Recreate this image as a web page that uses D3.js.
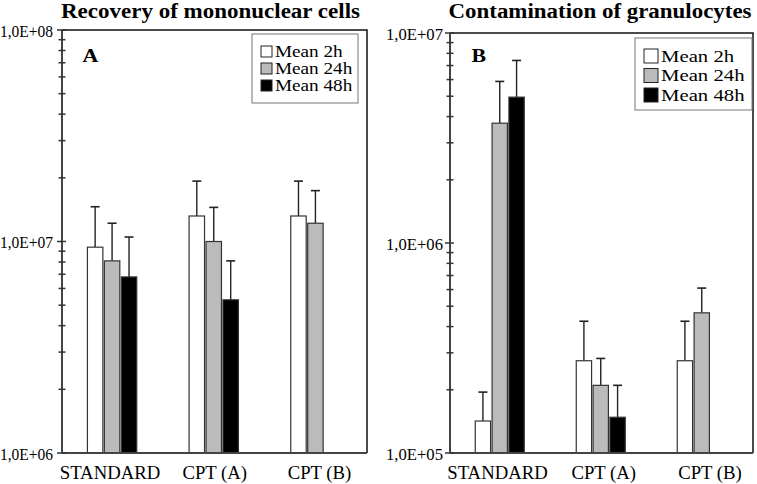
<!DOCTYPE html>
<html>
<head>
<meta charset="utf-8">
<script src="https://cdn.jsdelivr.net/npm/d3@7/dist/d3.min.js"></script>
<style>
  html, body { margin: 0; padding: 0; background: #fff; }
  svg { display: block; }
  text { font-family: "Liberation Serif", "Times New Roman", serif; fill: #000; }
</style>
</head>
<body>
<svg id="chart" width="757" height="484"></svg>
<script>
// ---------- data ----------
const categories = ["STANDARD", "CPT (A)", "CPT (B)"];
const seriesNames = ["Mean 2h", "Mean 24h", "Mean 48h"];
const seriesColors = ["#ffffff", "#bbbbbb", "#000000"];

// Panel A: Recovery of mononuclear cells
const monoMean2h  = [9.4e6, 1.32e7, 1.32e7];
const monoMean24h = [8.1e6, 1.0e7, 1.22e7];
const monoMean48h = [6.8e6, 5.3e6, null];
const monoSd2h    = [5.2e6, 6.1e6, 6.1e6];
const monoSd24h   = [4.1e6, 4.5e6, 5.2e6];
const monoSd48h   = [3.7e6, 2.8e6, null];
const monoTicks   = ["1,0E+06", "1,0E+07", "1,0E+08"];

// Panel B: Contamination of granulocytes
const granMean2h  = [1.42e5, 2.75e5, 2.75e5];
const granMean24h = [3.72e6, 2.1e5, 4.65e5];
const granMean48h = [4.95e6, 1.48e5, null];
const granSd2h    = [5.3e4, 1.49e5, 1.49e5];
const granSd24h   = [2.16e6, 7.2e4, 1.45e5];
const granSd48h   = [2.45e6, 6.2e4, null];
const granTicks   = ["1,0E+05", "1,0E+06", "1,0E+07"];

const panels = [
  {
    title: "Recovery of mononuclear cells", letter: "A",
    means: [monoMean2h, monoMean24h, monoMean48h],
    sds: [monoSd2h, monoSd24h, monoSd48h],
    tickLabels: monoTicks, domain: [1e6, 1e8],
    x0: 62, x1: 367, y0: 30, y1: 453,
    labelFont: 16, labelW: 53, labelGap: 9,
    catRange: [110, 319.5],
    legend: {x: 252, y: 34, w: 106, h: 69, sw: 11, font: 16, row: 17, dy: 0, stretch: 1.2},
    letterX: 82.5, titleX: 210.5, titleW: 299
  },
  {
    title: "Contamination of granulocytes", letter: "B",
    means: [granMean2h, granMean24h, granMean48h],
    sds: [granSd2h, granSd24h, granSd48h],
    tickLabels: granTicks, domain: [1e5, 1e7],
    x0: 450, x1: 753, y0: 33, y1: 453,
    labelFont: 17, labelW: 57, labelGap: 7,
    catRange: [497.5, 710],
    legend: {x: 635, y: 38, w: 117, h: 72, sw: 14, font: 17, row: 19.5, dy: 1.5, stretch: 1.22},
    letterX: 471.5, titleX: 600, titleW: 303
  }
];

const svg = d3.select("#chart");

function stretch(sel, factor) {
  sel.each(function () {
    const w = this.getComputedTextLength();
    d3.select(this).attr("textLength", w * factor).attr("lengthAdjust", "spacingAndGlyphs");
  });
}

panels.forEach(p => {
  const g = svg.append("g");
  const y = d3.scaleLog().domain(p.domain).range([p.y1, p.y0]);
  const x = d3.scaleBand().domain(categories).range([p.x0, p.x1])
    .paddingInner(0.5).paddingOuter(0.25);
  const xs = d3.scaleBand().domain(seriesNames).range([0, x.bandwidth()]);
  const bw = xs.bandwidth() - 1.5;
  const xl = d3.scalePoint().domain(categories).range(p.catRange);

  // title
  g.append("text").attr("x", p.titleX).attr("y", 18)
    .attr("text-anchor", "middle").attr("font-weight", "bold")
    .attr("font-size", 20)
    .attr("textLength", p.titleW).attr("lengthAdjust", "spacingAndGlyphs")
    .text(p.title);

  // bars with upper error bars
  p.means.forEach((vals, si) => {
    vals.forEach((v, ci) => {
      if (v == null) return;
      const bx = x(categories[ci]) + xs(seriesNames[si]);
      const cx = bx + bw / 2;
      const top = v + p.sds[si][ci];
      g.append("line").attr("x1", cx).attr("x2", cx)
        .attr("y1", y(v)).attr("y2", y(top))
        .attr("stroke", "#222").attr("stroke-width", 1.4);
      g.append("line").attr("x1", cx - 4.5).attr("x2", cx + 4.5)
        .attr("y1", y(top)).attr("y2", y(top))
        .attr("stroke", "#222").attr("stroke-width", 1.6);
      g.append("rect").attr("x", bx).attr("y", y(v))
        .attr("width", bw).attr("height", p.y1 - y(v))
        .attr("fill", seriesColors[si])
        .attr("stroke", "#333").attr("stroke-width", 1.2);
    });
  });

  // frame: top and right
  g.append("path")
    .attr("d", `M${p.x0},${p.y0}H${p.x1}V${p.y1}`)
    .attr("fill", "none").attr("stroke", "#111").attr("stroke-width", 1.5);
  g.append("line").attr("x1", p.x0).attr("x2", p.x1)
    .attr("y1", p.y1).attr("y2", p.y1)
    .attr("stroke", "#444").attr("stroke-width", 1.8);
  g.append("line").attr("x1", p.x0).attr("x2", p.x0)
    .attr("y1", p.y0).attr("y2", p.y1)
    .attr("stroke", "#444").attr("stroke-width", 2);

  // ticks crossing the axis
  const isMajor = t => Math.abs(Math.log10(t) - Math.round(Math.log10(t))) < 1e-9;
  const allTicks = y.ticks();
  allTicks.forEach(t => {
    const major = isMajor(t);
    const yy = y(t);
    g.append("line")
      .attr("x1", p.x0 - (major ? 5 : 3.5)).attr("x2", p.x0 + (major ? 4 : 3.5))
      .attr("y1", yy).attr("y2", yy)
      .attr("stroke", "#333").attr("stroke-width", 1.5);
  });
  allTicks.filter(isMajor).forEach((t, i) => {
    g.append("text").attr("x", p.x0 - p.labelGap).attr("y", y(t) + 6.5)
      .attr("text-anchor", "end").attr("font-size", p.labelFont)
      .attr("textLength", p.labelW).attr("lengthAdjust", "spacingAndGlyphs")
      .text(p.tickLabels[i]);
  });

  // category labels
  g.selectAll(null).data(categories).join("text")
    .attr("x", d => xl(d)).attr("y", 479)
    .attr("text-anchor", "middle").attr("font-size", 18).text(d => d)
    .call(stretch, 1.04);

  // panel letter
  g.append("text").attr("x", p.letterX).attr("y", 62)
    .attr("font-weight", "bold").attr("font-size", 19).text(p.letter)
    .call(stretch, 1.15);

  // legend
  const L = p.legend;
  g.append("rect").attr("x", L.x).attr("y", L.y).attr("width", L.w).attr("height", L.h)
    .attr("fill", "#fff").attr("stroke", "#777").attr("stroke-width", 1);
  const top0 = L.y + L.h / 2 - L.row + L.dy;
  seriesNames.forEach((s, i) => {
    const cy = top0 + i * L.row;
    g.append("rect").attr("x", L.x + 9).attr("y", cy - L.sw / 2)
      .attr("width", L.sw).attr("height", L.sw)
      .attr("fill", seriesColors[i]).attr("stroke", "#222").attr("stroke-width", 1);
    g.append("text").attr("x", L.x + 9 + L.sw + 3).attr("y", cy + L.font * 0.34)
      .attr("font-size", L.font).text(s)
      .call(stretch, L.stretch);
  });
});
</script>
</body>
</html>
